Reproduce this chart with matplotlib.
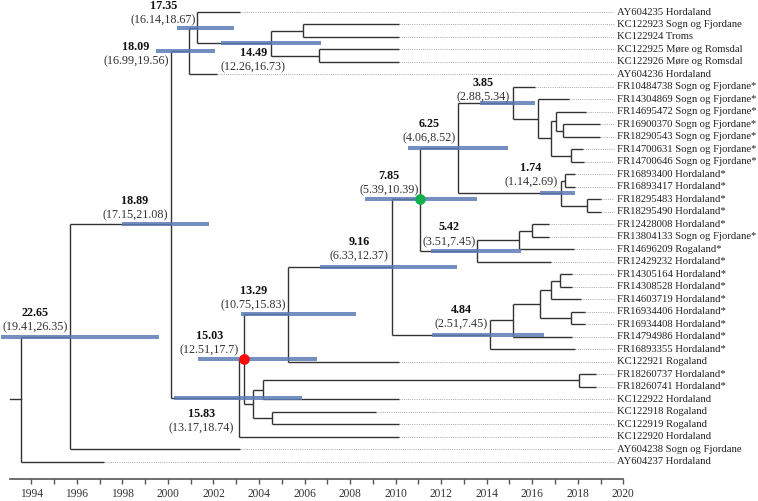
import matplotlib
matplotlib.use("Agg")
import matplotlib.pyplot as plt
from matplotlib.ticker import FixedLocator

plt.rcParams['font.family'] = ['Liberation Serif', 'DejaVu Serif']

# ---------------- data ----------------
leaf_names = [
    "AY604235 Hordaland", "KC122923 Sogn og Fjordane", "KC122924 Troms",
    "KC122925 Møre og Romsdal", "KC122926 Møre og Romsdal", "AY604236 Hordaland",
    "FR10484738 Sogn og Fjordane*", "FR14304869 Sogn og Fjordane*",
    "FR14695472 Sogn og Fjordane*", "FR16900370 Sogn og Fjordane*",
    "FR18290543 Sogn og Fjordane*", "FR14700631 Sogn og Fjordane*",
    "FR14700646 Sogn og Fjordane*", "FR16893400 Hordaland*", "FR16893417 Hordaland*",
    "FR18295483 Hordaland*", "FR18295490 Hordaland*", "FR12428008 Hordaland*",
    "FR13804133 Sogn og Fjordane*", "FR14696209 Rogaland*", "FR12429232 Hordaland*",
    "FR14305164 Hordaland*", "FR14308528 Hordaland*", "FR14603719 Hordaland*",
    "FR16934406 Hordaland*", "FR16934408 Hordaland*", "FR14794986 Hordaland*",
    "FR16893355 Hordaland*", "KC122921 Rogaland", "FR18260737 Hordaland*",
    "FR18260741 Hordaland*", "KC122922 Hordaland", "KC122918 Rogaland",
    "KC122919 Rogaland", "KC122920 Hordaland", "AY604238 Sogn og Fjordane",
    "AY604237 Hordaland",
]
leaf_tip_year = [
    2003.17, 2010.15, 2010.15, 2010.15, 2010.15, 2002.16,
    2016.14, 2017.63, 2018.36, 2018.98, 2018.98, 2018.23, 2018.27,
    2017.88, 2017.88, 2019.01, 2019.01, 2016.75, 2016.75, 2017.85, 2016.81,
    2017.76, 2017.76, 2018.13, 2018.32, 2018.32, 2017.76, 2017.88,
    2010.15, 2018.80, 2018.80, 2010.15, 2009.14, 2010.15, 2010.15,
    2003.17, 1997.18,
]

# internal nodes: name -> year, and children (int = leaf index)
node_year = {
    'root': 1993.53, 'n1889': 1995.69, 'n1809': 2000.14, 'nA': 2000.91,
    'n1735': 2001.29, 'n1449': 2004.51, 'nK12': 2005.95, 'nK34': 2006.62,
    'n1583': 2003.13, 'n1503': 2003.36, 'n1329': 2005.29, 'n916': 2009.85,
    'n785': 2011.08, 'n625': 2012.73, 'n385': 2015.14, 'c1': 2016.24,
    'c2': 2016.81, 'c3': 2017.04, 'c5': 2017.34, 'c4': 2017.69,
    'n174': 2017.26, 'd1': 2017.45, 'd2': 2018.42, 'n542': 2013.59,
    'e1': 2015.43, 'e2': 2015.99, 'n484': 2014.15, 'f1': 2015.17,
    'f2': 2016.35, 'f3': 2016.81, 'f5': 2017.22, 'f4': 2017.69,
    'nB': 2003.75, 'g1': 2004.19, 'g3': 2018.07, 'g2': 2004.58,
}
node_children = {
    'root': ['n1889', 36], 'n1889': ['n1809', 35], 'n1809': ['nA', 'n1583'],
    'nA': ['n1735', 5], 'n1735': [0, 'n1449'], 'n1449': ['nK12', 'nK34'],
    'nK12': [1, 2], 'nK34': [3, 4], 'n1583': ['n1503', 34],
    'n1503': ['n1329', 'nB'], 'n1329': ['n916', 28], 'n916': ['n785', 'n484'],
    'n785': ['n625', 'n542'], 'n625': ['n385', 'n174'], 'n385': [6, 'c1'],
    'c1': [7, 'c2'], 'c2': ['c3', 'c4'], 'c3': [8, 'c5'], 'c5': [9, 10],
    'c4': [11, 12], 'n174': ['d1', 'd2'], 'd1': [13, 14], 'd2': [15, 16],
    'n542': ['e1', 20], 'e1': ['e2', 19], 'e2': [17, 18],
    'n484': ['f1', 27], 'f1': ['f2', 26], 'f2': ['f3', 'f4'], 'f3': ['f5', 23],
    'f5': [21, 22], 'f4': [24, 25], 'nB': ['g1', 'g2'], 'g1': ['g3', 31],
    'g3': [29, 30], 'g2': [32, 33],
}
root_stub_start = 1993.07

# node annotations
ann_node = ['n1889', 'n1809', 'nA', 'n1735', 'n1449', 'n1583', 'n1503', 'n1329',
            'n916', 'n785', 'n625', 'n385', 'n174', 'n542', 'n484']
ann_age = ['22.65', '18.89', '18.09', '17.35', '14.49', '15.83', '15.03', '13.29',
           '9.16', '7.85', '6.25', '3.85', '1.74', '5.42', '4.84']
ann_hpd = ['(19.41,26.35)', '(17.15,21.08)', '(16.99,19.56)', '(16.14,18.67)',
           '(12.26,16.73)', '(13.17,18.74)', '(12.51,17.7)', '(10.75,15.83)',
           '(6.33,12.37)', '(5.39,10.39)', '(4.06,8.52)', '(2.88,5.34)',
           '(1.14,2.69)', '(3.51,7.45)', '(2.51,7.45)']
bar_start = [1992.65, 1997.97, 1999.48, 2000.39, 2002.32, 2000.27, 2001.33, 2003.21,
             2006.68, 2008.66, 2010.56, 2013.71, 2016.34, 2011.55, 2011.58]
bar_end = [1999.62, 2001.82, 2002.07, 2002.90, 2006.72, 2005.88, 2006.53, 2008.26,
           2012.68, 2013.59, 2014.95, 2016.12, 2017.88, 2015.49, 2016.53]
label_x = [1994.16, 1998.55, 1998.60, 1999.80, 2003.75, 2001.48, 2001.82, 2003.75,
           2008.39, 2009.72, 2011.48, 2013.85, 2015.95, 2012.33, 2012.87]
label_y = [24.08, 15.11, 2.83, -0.50, 3.26, 32.19, 25.92, 22.34,
           18.44, 13.11, 8.99, 5.66, 12.51, 17.25, 23.86]

marked_nodes = ['n1503', 'n785']
marked_colors = ['#ff0a0a', '#12b04e']

year_ticks = list(range(1994, 2021, 2))
minor_ticks = list(range(1995, 2020, 2))

# ---------------- layout ----------------
node_y = {}

def get_y(c):
    if isinstance(c, int):
        return float(c)
    if c not in node_y:
        ch = node_children[c]
        node_y[c] = (get_y(ch[0]) + get_y(ch[-1])) / 2.0
    return node_y[c]

def get_x(c):
    return leaf_tip_year[c] if isinstance(c, int) else node_year[c]

for n in node_children:
    get_y(n)

fig = plt.figure(figsize=(7.58, 5.01), dpi=100)
ax = fig.add_axes([0, (501 - 479) / 501, 1, 479 / 501])
ax.set_xlim(1992.625, 2025.915)
ax.set_ylim(37.39, -0.961)

line_col = '#333333'
lw = 1.0
for n, ch in node_children.items():
    x = node_year[n]
    ys = [get_y(c) for c in ch]
    ax.plot([x, x], [min(ys), max(ys)], color=line_col, lw=lw, zorder=2,
            solid_capstyle='butt')
    for c in ch:
        ax.plot([x, get_x(c)], [get_y(c), get_y(c)], color=line_col, lw=lw,
                zorder=2, solid_capstyle='butt')
ax.plot([root_stub_start, node_year['root']], [node_y['root']] * 2,
        color=line_col, lw=lw, zorder=2)

# leaf dotted guides and labels
for i, name in enumerate(leaf_names):
    ax.plot([leaf_tip_year[i], 2019.6], [i, i], color='#a8a8a8', lw=0.7,
            linestyle=(0, (1, 1.2)), zorder=1)
    ax.text(2019.74, i, name, fontsize=7.7, va='center', ha='left',
            color='#222222')

# HPD bars and labels
for k, n in enumerate(ann_node):
    y = node_y[n]
    ax.plot([bar_start[k], bar_end[k]], [y, y], color='#5d7db5', lw=2.9,
            alpha=0.85, solid_capstyle='butt', zorder=3)
    ax.text(label_x[k], label_y[k], ann_age[k], fontsize=8.7, fontweight='bold',
            ha='center', va='center', color='#111111', zorder=5)
    ax.text(label_x[k], label_y[k] + 1.15, ann_hpd[k], fontsize=8.7,
            ha='center', va='center', color='#333333', zorder=5)

for n, col in zip(marked_nodes, marked_colors):
    ax.plot(node_year[n], node_y[n], 'o', color=col, markersize=7.7,
            markeredgewidth=0, zorder=6)

# axis
for s in ['top', 'left', 'right']:
    ax.spines[s].set_visible(False)
ax.spines['bottom'].set_bounds(1993.07, 2020)
ax.spines['bottom'].set_color('#555555')
ax.spines['bottom'].set_linewidth(1.2)
ax.set_yticks([])
ax.set_xticks(year_ticks)
ax.set_xticklabels([str(t) for t in year_ticks])
ax.xaxis.set_minor_locator(FixedLocator(minor_ticks))
ax.tick_params(axis='x', which='both', length=3.5, width=1.0, color='#555555',
               direction='out', labelsize=8.3, labelcolor='#333333', pad=3)
ax.patch.set_alpha(0)

fig.savefig('out.png', dpi=100)
